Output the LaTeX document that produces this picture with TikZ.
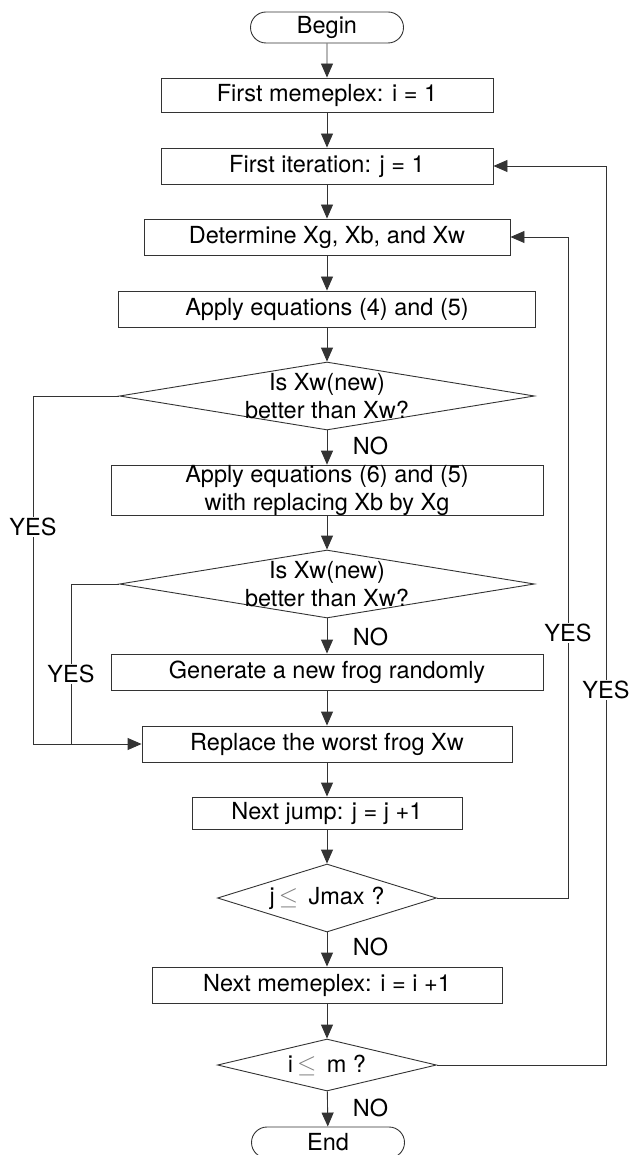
\documentclass[tikz,border=0pt]{standalone}
\usepackage{fontspec}
\setmainfont{TeX Gyre Heros}
\usepackage{tikz}
\usetikzlibrary{arrows.meta,shapes.geometric,shapes.misc}

\begin{document}
\begin{tikzpicture}[
  x=1pt, y=-1pt,
  font=\fontsize{23.5}{28.5}\selectfont,
  line width=0.9pt,
  pnode/.style={draw=black!80,rectangle,inner sep=0pt,align=center,minimum height=36pt},
  tnode/.style={draw=black!80,rounded rectangle,inner sep=0pt,minimum width=153pt,minimum height=31pt},
  dnode/.style={draw=black!80,diamond,inner sep=0pt},
  lnode/.style={inner sep=1pt,fill=white},
  arr/.style={draw=black!80,-{Triangle[length=14pt,width=12pt]}},
  lin/.style={draw=black!80}
]
  \useasboundingbox (0,0) rectangle (629,1155);

  % start and first steps
  \node[tnode] (begin) at (327,27.5) {Begin};
  \node[pnode,minimum width=332pt,minimum height=34pt] (meme1) at (327,95) {First memeplex: i = 1};
  \node[pnode,minimum width=332pt] (iter1) at (327,166) {First iteration: j = 1};
  \node[pnode,minimum width=366pt] (determine) at (327,237) {Determine Xg, Xb, and Xw};
  \node[pnode,minimum width=417pt] (apply45) at (327,309) {Apply equations (4) and (5)};

  % first check
  \node[dnode,minimum width=415pt,minimum height=68pt] (check1) at (327,396) {};
  \node[align=center] (check1txt) at (check1) {Is Xw(new)\\better than Xw?};
  \node[pnode,minimum width=432pt,minimum height=49pt] (apply65) at (327,490.5) {Apply equations (6) and (5)\\with replacing Xb by Xg};

  % second check
  \node[dnode,minimum width=415pt,minimum height=68pt] (check2) at (327,584) {};
  \node[align=center] (check2txt) at (check2) {Is Xw(new)\\better than Xw?};
  \node[pnode,minimum width=432pt] (generate) at (327,672) {Generate a new frog randomly};
  \node[pnode,minimum width=370pt] (replace) at (327,744) {Replace the worst frog Xw};

  % loops
  \node[pnode,minimum width=270pt,minimum height=32pt] (jump) at (327,813) {Next jump: j = j +1};
  \node[dnode,minimum width=219pt,minimum height=68pt] (jcheck) at (327,898) {};
  \node (jchecktxt) at (jcheck) {j\,{\color{black!50}$\leq$}\, Jmax ?};
  \node[pnode,minimum width=350pt] (meme2) at (327,985) {Next memeplex: i = i +1};
  \node[dnode,minimum width=219pt,minimum height=52pt] (icheck) at (327,1065) {};
  \node (ichecktxt) at (icheck) {i\,{\color{black!50}$\leq$}\, m ?};
  \node[tnode] (end) at (328,1142.5) {End};

  % corner points
  \coordinate (yes1) at (33,396);
  \coordinate (yes2) at (71,744);
  \coordinate (back1) at (568,898);
  \coordinate (back2) at (606,1065);

  % main flow
  \draw[arr] (begin) -- (meme1);
  \draw[arr] (meme1) -- (iter1);
  \draw[arr] (iter1) -- (determine);
  \draw[arr] (determine) -- (apply45);
  \draw[arr] (apply45) -- (check1);
  \draw[arr] (check1) -- (apply65);
  \draw[arr] (apply65) -- (check2);
  \draw[arr] (check2) -- (generate);
  \draw[arr] (generate) -- (replace);
  \draw[arr] (replace) -- (jump);
  \draw[arr] (jump) -- (jcheck);
  \draw[arr] (jcheck) -- (meme2);
  \draw[arr] (meme2) -- (icheck);
  \draw[arr] (icheck) -- (end);

  % yes branches
  \draw[arr] (check1.west) -- (yes1) |- (replace.west);
  \draw[lin] (check2.west) -| (yes2);
  \draw[arr] (jcheck.east) -- (back1) |- (determine.east);
  \draw[arr] (icheck.east) -- (back2) |- (iter1.east);

  % branch labels
  \node[lnode] (yesA) at (33,527) {YES};
  \node[lnode] (yesB) at (71,674) {YES};
  \node[lnode] (yesC) at (568,633) {YES};
  \node[lnode] (yesD) at (606,690) {YES};
  \node[anchor=west] (noA) at (349,446) {NO};
  \node[anchor=west] (noB) at (349,637) {NO};
  \node[anchor=west] (noC) at (349,947) {NO};
  \node[anchor=west] (noD) at (349,1108) {NO};

\end{tikzpicture}
\end{document}
